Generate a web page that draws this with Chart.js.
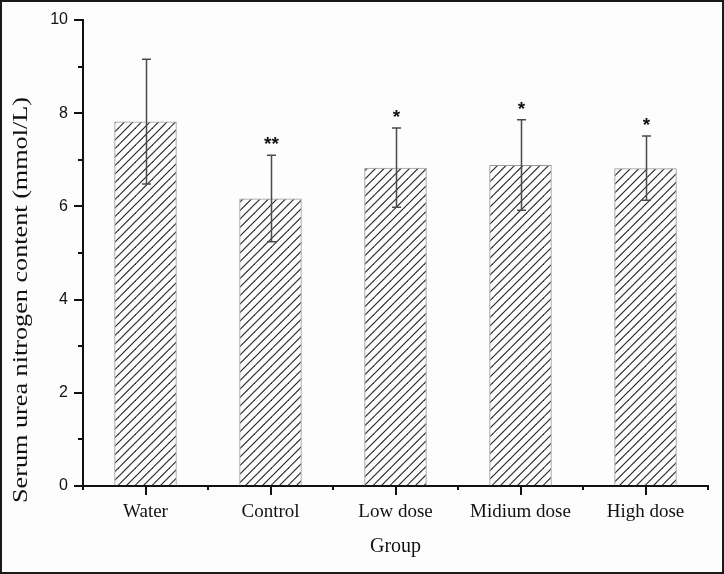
<!DOCTYPE html>
<html>
<head>
<meta charset="utf-8">
<script src="https://cdn.jsdelivr.net/npm/chart.js@4"></script>
<style>
  body { margin: 0; background: #fff; }
  #wrap { width: 724px; height: 574px; }
</style>
</head>
<body>
<div id="wrap"><canvas id="grafico" width="724" height="574"></canvas></div>
<script>
const groups = ["Water", "Control", "Low dose", "Midium dose", "High dose"];
const means = [7.82, 6.17, 6.83, 6.89, 6.82];
const sds = [1.34, 0.93, 0.85, 0.97, 0.69];
const marks = ["", "**", "*", "*", "*"];
const yTicks = [0, 2, 4, 6, 8, 10];

// hatch "///" pattern
function makeHatch() {
  const c = document.createElement("canvas");
  c.width = 17;
  c.height = 17;
  const g = c.getContext("2d");
  g.strokeStyle = "#2b2b2b";
  g.lineWidth = 1.2;
  for (let k = -2; k <= 2; k++) {
    const o = k * 8.5;
    g.beginPath();
    g.moveTo(o - 1, 18);
    g.lineTo(o + 18, -1);
    g.stroke();
  }
  return g.createPattern(c, "repeat");
}

const decor = {
  id: "decor",
  beforeDraw(chart) {
    const c = chart.ctx;
    c.save();
    c.fillStyle = "#fdfdfd";
    c.fillRect(0, 0, chart.width, chart.height);
    c.restore();
  },
  afterDatasetsDraw(chart) {
    const c = chart.ctx;
    const x = chart.scales.x;
    const y = chart.scales.y;
    c.save();
    c.strokeStyle = "#4a4a4a";
    c.lineWidth = 1.5;
    means.forEach(function (m, i) {
      const px = Math.round(x.getPixelForValue(i)) + 0.5;
      const top = y.getPixelForValue(m + sds[i]);
      const bot = y.getPixelForValue(m - sds[i]);
      c.beginPath();
      c.moveTo(px, top);
      c.lineTo(px, bot);
      c.moveTo(px - 4.5, top);
      c.lineTo(px + 4.5, top);
      c.moveTo(px - 4.5, bot);
      c.lineTo(px + 4.5, bot);
      c.stroke();
      if (marks[i]) {
        c.fillStyle = "#111";
        c.font = "bold 19px 'Liberation Sans'";
        c.textAlign = "center";
        c.textBaseline = "middle";
        c.fillText(marks[i], px, top - 10);
      }
    });
    c.restore();
  },
  afterDraw(chart) {
    const c = chart.ctx;
    const x = chart.scales.x;
    const y = chart.scales.y;
    const a = chart.chartArea;
    c.save();
    c.strokeStyle = "#111";
    c.lineWidth = 2;
    // y ticks, long on even values
    for (let v = 0; v <= 10; v++) {
      const py = Math.round(y.getPixelForValue(v));
      const len = v % 2 === 0 ? 9 : 5;
      c.beginPath();
      c.moveTo(a.left, py);
      c.lineTo(a.left - len, py);
      c.stroke();
    }
    // x ticks: long at groups, short between
    const step = (a.right - a.left) / groups.length;
    for (let i = 0; i <= groups.length; i++) {
      const px = Math.round(a.left + i * step);
      c.beginPath();
      c.moveTo(px, a.bottom);
      c.lineTo(px, a.bottom + 4);
      c.stroke();
    }
    groups.forEach(function (g, i) {
      const px = Math.round(x.getPixelForValue(i));
      c.beginPath();
      c.moveTo(px, a.bottom);
      c.lineTo(px, a.bottom + 9);
      c.stroke();
    });
    // y title
    const title = "Serum urea nitrogen content (mmol/L)";
    c.font = "21px 'Liberation Serif'";
    c.fillStyle = "#111";
    c.textAlign = "center";
    c.textBaseline = "middle";
    const w = c.measureText(title).width;
    c.translate(21, 300);
    c.rotate(-Math.PI / 2);
    c.scale(406 / w, 1);
    c.fillText(title, 0, 0);
    c.restore();
    // frame
    c.save();
    c.strokeStyle = "#1a1a1a";
    c.lineWidth = 2;
    c.strokeRect(1, 1, chart.width - 2, chart.height - 2);
    c.restore();
  },
};

const ctx = document.getElementById("grafico");

const chart = new Chart(ctx, {
  type: "bar",
  data: {
    labels: groups,
    datasets: [
      {
        label: "",
        data: means,
        backgroundColor: makeHatch(),
        borderColor: "#9a9a9a",
        borderWidth: 1,
        categoryPercentage: 1,
        barPercentage: 0.5,
      },
    ],
  },
  options: {
    responsive: false,
    animation: false,
    layout: {
      padding: { top: 20, right: 16, left: 0, bottom: 0 },
    },
    scales: {
      x: {
        grid: { display: true, drawOnChartArea: false, drawTicks: true, tickLength: 9, color: "transparent" },
        border: { display: true, color: "#111", width: 2 },
        ticks: {
          padding: 6,
          color: "#111",
          font: { family: "'Liberation Serif'", size: 19 },
        },
        title: {
          display: true,
          text: "Group",
          color: "#111",
          font: { family: "'Liberation Serif'", size: 20 },
          padding: { top: 4, bottom: 15 },
        },
        afterFit: function (scale) {
          scale.height = 88;
        },
      },
      y: {
        min: 0,
        max: 10,
        grid: { display: true, drawOnChartArea: false, drawTicks: true, tickLength: 9, color: "transparent" },
        border: { display: true, color: "#111", width: 2 },
        ticks: {
          stepSize: 1,
          padding: 6,
          color: "#111",
          font: { family: "'Liberation Sans'", size: 16 },
          callback: function (v) {
            return yTicks.includes(v) ? v : "";
          },
        },
        afterFit: function (scale) {
          scale.width = 83;
        },
      },
    },
    plugins: {
      legend: { display: false },
      tooltip: { enabled: false },
    },
  },
  plugins: [decor],
});
</script>
</body>
</html>
